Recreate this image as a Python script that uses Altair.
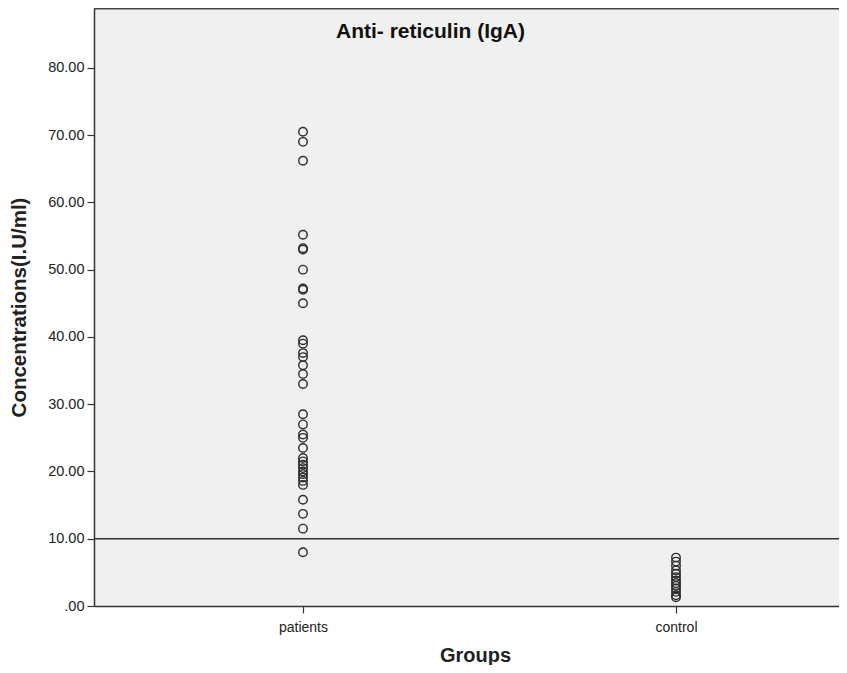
import altair as alt
import pandas as pd

groups = ["patients", "control"]
group_pos = [1, 2]
patients = [70.5, 69.0, 66.2, 55.2, 53.2, 53.0, 50.0, 47.2, 47.0, 45.0,
            39.5, 39.0, 37.6, 37.0, 35.8, 34.5, 33.0, 28.5, 27.0, 25.5,
            25.0, 23.5, 22.0, 21.5, 21.0, 20.5, 20.0, 19.6, 19.1, 18.6,
            18.0, 15.8, 13.7, 11.5, 8.0]
control = [7.2, 6.6, 6.0, 5.3, 4.8, 4.3, 3.8, 3.4, 3.0, 2.6, 2.1, 1.6, 1.3]
cutoff = [10.0]
y_ticks = [0, 10, 20, 30, 40, 50, 60, 70, 80]
title_text = "Anti- reticulin (IgA)"

rows = [{"pos": group_pos[0], "group": groups[0], "value": v} for v in patients] + \
       [{"pos": group_pos[1], "group": groups[1], "value": v} for v in control]
df = pd.DataFrame(rows)

W, H = 745, 598
xscale = alt.Scale(domain=[0.4397, 2.437], nice=False, zero=False)
yscale = alt.Scale(domain=[0, 88.9], nice=False, zero=False)

font = "Liberation Sans"

points = alt.Chart(df).mark_point(
    shape="circle", filled=False, size=72, strokeWidth=1.4, color="#2b2b2b", opacity=1
).encode(
    x=alt.X("pos:Q", scale=xscale, axis=alt.Axis(
        values=group_pos, labelExpr="datum.value == 1 ? 'patients' : 'control'",
        title="Groups", grid=False, domainColor="#333333", domainWidth=1.5,
        tickColor="#333333", tickSize=7, tickWidth=1.2, labelFontSize=14,
        labelColor="#222222", labelFont=font, labelPadding=7,
        titleFont=font, titleFontSize=20, titleFontWeight="bold",
        titleColor="#222222", titlePadding=11, titleX=381)),
    y=alt.Y("value:Q", scale=yscale, axis=alt.Axis(
        values=y_ticks, labelExpr="datum.value == 0 ? '.00' : format(datum.value, '.2f')",
        title="Concentrations(I.U/ml)", grid=False, domainColor="#333333",
        domainWidth=1.5, tickColor="#333333", tickSize=7, tickWidth=1.2,
        labelFontSize=14.5, labelColor="#222222", labelFont=font, labelPadding=3,
        titleFont=font, titleFontSize=20.5, titleFontWeight="bold",
        titleColor="#222222", titlePadding=18)),
)

ref = alt.Chart(pd.DataFrame({"value": cutoff})).mark_rule(
    color="#333333", strokeWidth=1.5
).encode(y=alt.Y("value:Q", scale=yscale))

top = alt.Chart(pd.DataFrame({"a": [0]})).mark_rule(
    color="#444444", strokeWidth=1.5
).encode(x=alt.value(0), x2=alt.value(W), y=alt.value(0.75))

title = alt.Chart(pd.DataFrame({"t": [title_text]})).mark_text(
    font=font, fontSize=21, fontWeight="bold", color="#111111",
    align="left", baseline="middle"
).encode(text="t:N", x=alt.value(242), y=alt.value(24))

chart = alt.layer(ref, top, points, title).properties(
    width=W, height=H,
    autosize=alt.AutoSizeParams(type="none"),
    padding={"left": 86, "top": 0, "right": 0, "bottom": 59},
    background="white",
).configure_view(fill="#F0F0F0", stroke=None)

chart.save("out.html", embed_options={"renderer": "svg", "actions": False})
